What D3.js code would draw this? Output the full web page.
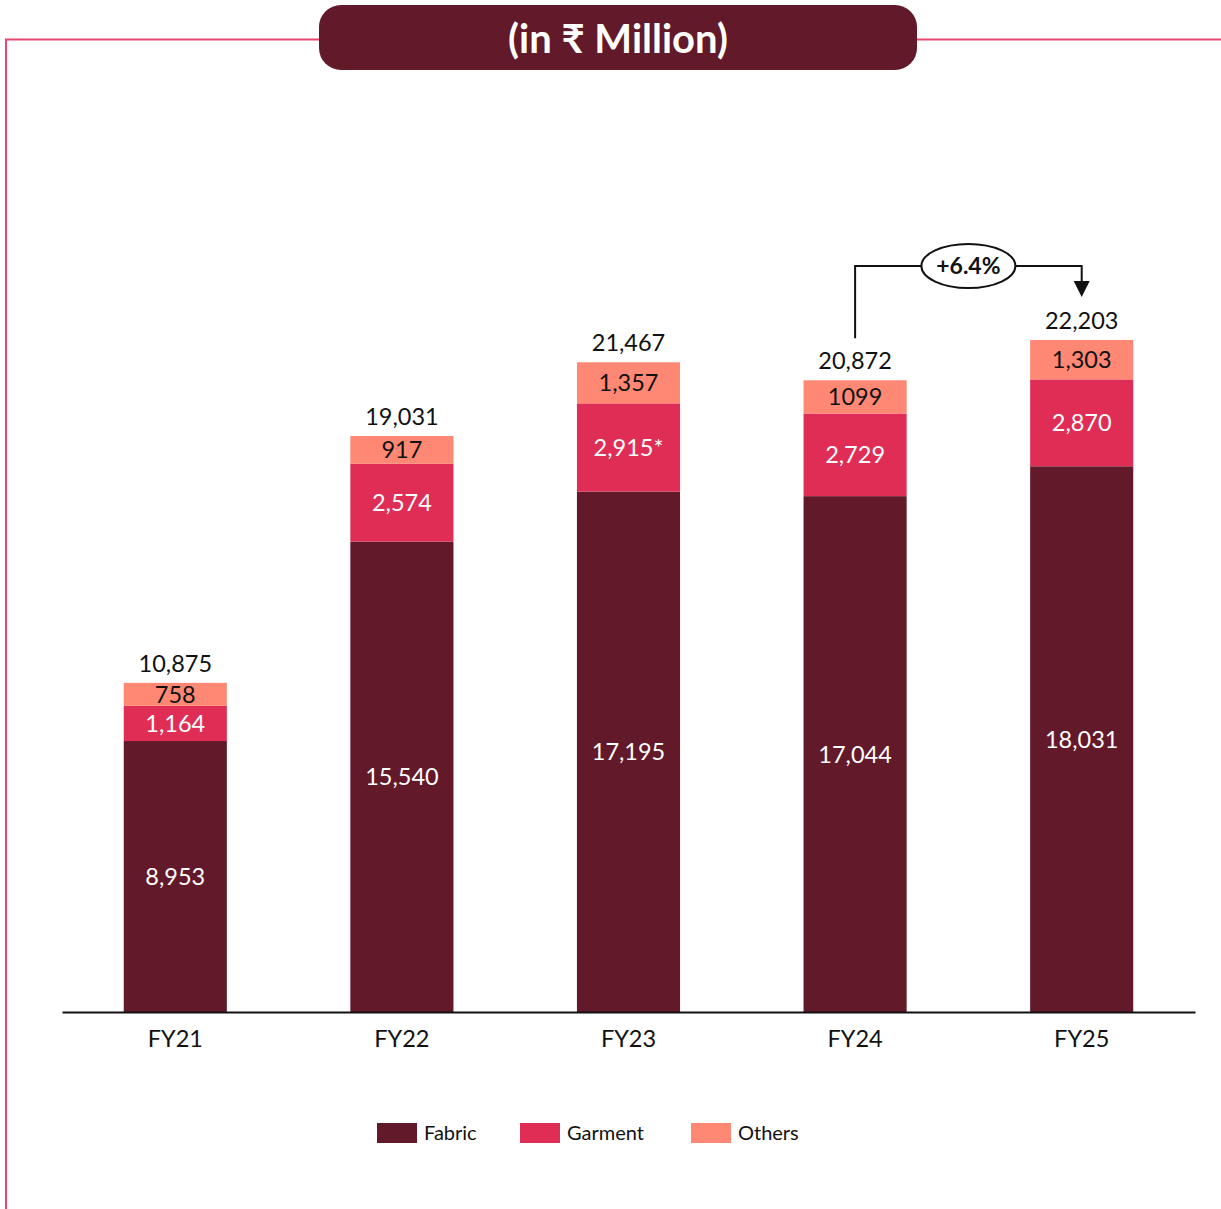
<!DOCTYPE html>
<html>
<head>
<meta charset="utf-8">
<script src="https://cdn.jsdelivr.net/npm/d3@7/dist/d3.min.js"></script>
<style>
  html, body { margin: 0; padding: 0; background: #fff; }
  svg { display: block; font-family: Lato, "Noto Sans", sans-serif; }
</style>
</head>
<body>
<svg id="chart" width="1221" height="1209"></svg>
<script>
// Revenue split by segment, in ₹ Million
const years = ["FY21", "FY22", "FY23", "FY24", "FY25"];
const fabric = [8953, 15540, 17195, 17044, 18031];
const garment = [1164, 2574, 2915, 2729, 2870];
const others = [758, 917, 1357, 1099, 1303];
const totals = [10875, 19031, 21467, 20872, 22203];
const totalLabels = ["10,875", "19,031", "21,467", "20,872", "22,203"];
const fabricLabels = ["8,953", "15,540", "17,195", "17,044", "18,031"];
const garmentLabels = ["1,164", "2,574", "2,915*", "2,729", "2,870"];
const othersLabels = ["758", "917", "1,357", "1099", "1,303"];
const seriesNames = ["Fabric", "Garment", "Others"];
const growthLabel = "+6.4%";

const colors = { Fabric: "#62192A", Garment: "#E02D55", Others: "#FF8874" };
const frame = "#E8456C";
const labelSize = 23.5;

const svg = d3.select("#chart");

// frame lines
svg.append("path")
  .attr("d", "M6,1209 V39.5 H330 M905,39.5 H1221")
  .attr("fill", "none").attr("stroke", frame).attr("stroke-width", 2);

// title pill
svg.append("rect")
  .attr("x", 319).attr("y", 5).attr("width", 598).attr("height", 65)
  .attr("rx", 22).attr("ry", 22).attr("fill", "#62192A");
svg.append("text")
  .attr("x", 618).attr("y", 53).attr("text-anchor", "middle")
  .attr("fill", "#fff").attr("font-size", 40).attr("font-weight", 700)
  .text("(in ₹ Million)");

const x = d3.scaleBand().domain(years).range([62, 1195])
  .paddingInner(0.545).paddingOuter(0.2725);
const y = d3.scaleLinear().domain([0, 22203]).range([1012, 340]);

const rows = years.map((yr, i) => ({
  year: yr, Fabric: fabric[i], Garment: garment[i], Others: others[i], i
}));
const stack = d3.stack().keys(seriesNames)(rows);
const labelSets = { Fabric: fabricLabels, Garment: garmentLabels, Others: othersLabels };
const labelColor = { Fabric: "#fff", Garment: "#fff", Others: "#111" };

const layers = svg.append("g").selectAll("g").data(stack).join("g")
  .attr("fill", d => colors[d.key]);
layers.selectAll("rect").data(d => d).join("rect")
  .attr("x", d => x(d.data.year))
  .attr("width", x.bandwidth())
  .attr("y", d => y(d[1]))
  .attr("height", d => y(d[0]) - y(d[1]));

// segment labels
stack.forEach(layer => {
  svg.append("g").selectAll("text").data(layer).join("text")
    .attr("x", d => x(d.data.year) + x.bandwidth() / 2)
    .attr("y", d => (y(d[0]) + y(d[1])) / 2)
    .attr("dy", "0.36em")
    .attr("text-anchor", "middle")
    .attr("font-size", labelSize)
    .attr("fill", labelColor[layer.key])
    .text(d => labelSets[layer.key][d.data.i]);
});

// totals
svg.append("g").selectAll("text").data(rows).join("text")
  .attr("x", d => x(d.year) + x.bandwidth() / 2)
  .attr("y", d => y(totals[d.i]) - 11)
  .attr("text-anchor", "middle")
  .attr("font-size", labelSize)
  .attr("fill", "#111")
  .text(d => totalLabels[d.i]);

// x axis
const xAxis = svg.append("g").attr("transform", "translate(0,1012)")
  .call(d3.axisBottom(x).tickSize(0).tickPadding(18));
xAxis.select(".domain").attr("stroke", "#111").attr("stroke-width", 2);
xAxis.selectAll("text").attr("font-size", labelSize).attr("fill", "#111")
  .attr("font-family", "Lato, 'Noto Sans', sans-serif");

// growth annotation FY24 -> FY25
const x0 = x("FY24") + x.bandwidth() / 2;
const x1 = x("FY25") + x.bandwidth() / 2;
const yTop = 266;
const g = svg.append("g");
g.append("path")
  .attr("d", `M${x0},${y(totals[3]) - 42} V${yTop} H${x1} V${282}`)
  .attr("fill", "none").attr("stroke", "#111").attr("stroke-width", 2);
g.append("path")
  .attr("d", `M${x1 - 8},${281} L${x1 + 8},${281} L${x1},${297} Z`)
  .attr("fill", "#111");
const cx = (x0 + x1) / 2;
g.append("ellipse")
  .attr("cx", cx).attr("cy", yTop).attr("rx", 47).attr("ry", 22)
  .attr("fill", "#fff").attr("stroke", "#111").attr("stroke-width", 2);
g.append("text")
  .attr("x", cx).attr("y", yTop).attr("dy", "0.36em")
  .attr("text-anchor", "middle").attr("font-size", 23).attr("font-weight", 700)
  .attr("fill", "#111").text(growthLabel);

// legend
const legendX = [377, 520, 691];
const legend = svg.append("g").selectAll("g").data(seriesNames).join("g")
  .attr("transform", (d, i) => `translate(${legendX[i]},1123)`);
legend.append("rect").attr("width", 40).attr("height", 20)
  .attr("fill", d => colors[d]);
legend.append("text").attr("x", 47).attr("y", 10).attr("dy", "0.36em")
  .attr("font-size", 20).attr("fill", "#111").text(d => d);
</script>
</body>
</html>
